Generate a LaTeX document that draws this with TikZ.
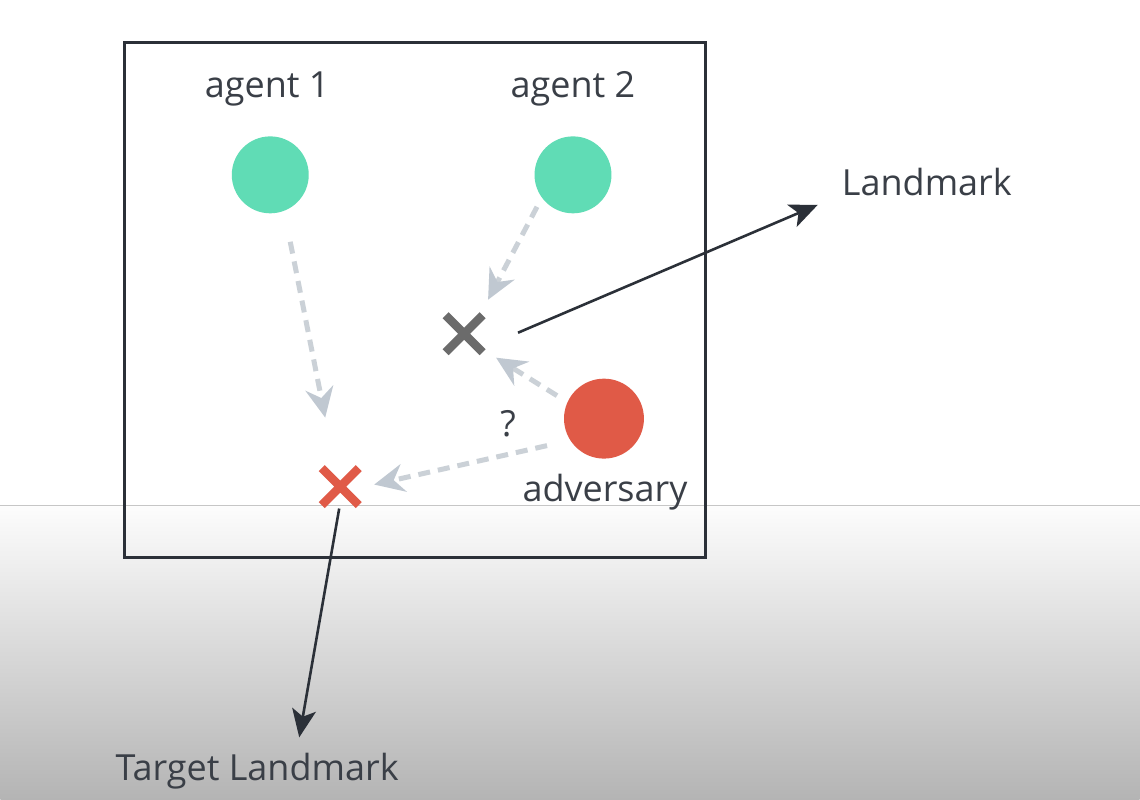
\documentclass[tikz,border=0pt]{standalone}
\usepackage{fontspec}
\setmainfont{Open Sans}
\usetikzlibrary{arrows.meta,shapes.misc}
\definecolor{agentgreen}{HTML}{60DCB5}
\definecolor{advred}{HTML}{E05A47}
\definecolor{xgray}{HTML}{6B6B6B}
\definecolor{txtdark}{HTML}{3A3F47}
\definecolor{linedark}{HTML}{2B3038}
\definecolor{dashgray}{HTML}{CBD1D7}
\definecolor{tipgray}{HTML}{C0C8D1}
\definecolor{bottomgray}{HTML}{B4B4B4}
\tikzset{
  lbl/.style={text=txtdark,font=\fontsize{36}{42}\selectfont,inner sep=0pt},
  agent/.style={circle,fill=agentgreen,minimum size=77pt,inner sep=0pt},
  adversary/.style={circle,fill=advred,minimum size=80pt,inner sep=0pt},
  xmark/.style={cross out,draw=#1,line width=8.5pt,minimum size=37pt,inner sep=0pt,outer sep=0pt},
  guess/.style={draw=dashgray,line width=5pt,dash pattern=on 12pt off 8pt,
    -{Stealth[length=30pt,width=28pt,inset=10pt,color=tipgray]}},
  pointer/.style={draw=linedark,line width=2.6pt,
    -{Stealth[length=28pt,width=24pt,inset=7pt]}}
}
\begin{document}
\begin{tikzpicture}[x=1pt,y=-1pt]
% background
\fill[white] (0,0) rectangle (1140,506);
\shade[top color=white!97!bottomgray,bottom color=bottomgray] (0,506) rectangle (1140,800);
\draw[gray!45,line width=1pt] (0,506) -- (1140,506);
\useasboundingbox (0,0) rectangle (1140,800);
% frame
\draw[linedark,line width=3pt] (124,43) rectangle (706,558);
% labels
\node[lbl] (l1) at (267,89) {agent 1};
\node[lbl] (l2) at (573,89) {agent 2};
\node[lbl,anchor=west] (lland) at (842,182) {Landmark};
\node[lbl,anchor=west] (ltarget) at (115,772) {Target Landmark};
\node[lbl] (ladv) at (605,493) {adversary};
\node[lbl] (q) at (508,424) {?};
% entities
\node[agent] (a1) at (270,175) {};
\node[agent] (a2) at (573,175) {};
\node[adversary] (adv) at (604,419) {};
\node[xmark=xgray] (lmx) at (464,334) {};
\node[xmark=advred] (tgx) at (340,487) {};
% connector end points
\coordinate (a1s) at (290,242);
\coordinate (a1e) at (325,418);
\coordinate (a2s) at (537,207);
\coordinate (a2e) at (488,300);
\coordinate (adv1s) at (557,396);
\coordinate (adv1e) at (496,358);
\coordinate (adv2s) at (547,446);
\coordinate (adv2e) at (374,485);
\coordinate (lms) at (518,333);
\coordinate (lme) at (818,205);
\coordinate (tgs) at (339,509);
\coordinate (tge) at (299,738);
% guesses
\draw[guess] (a1s) -- (a1e);
\draw[guess] (a2s) -- (a2e);
\draw[guess] (adv1s) -- (adv1e);
\draw[guess] (adv2s) -- (adv2e);
% pointers
\draw[pointer] (lms) -- (lme);
\draw[pointer] (tgs) -- (tge);
\end{tikzpicture}
\end{document}
